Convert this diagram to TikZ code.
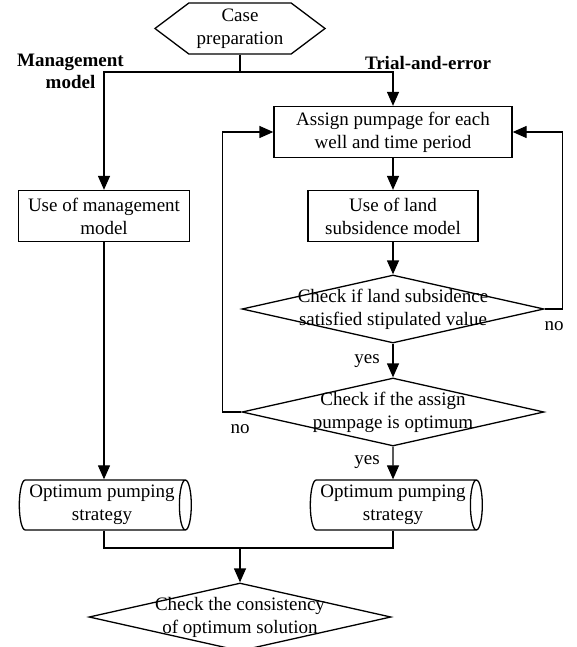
\documentclass[tikz,border=0pt]{standalone}
\usepackage{fontspec}
\setmainfont{Liberation Serif}
\usetikzlibrary{shapes.geometric}
\usetikzlibrary{shapes.symbols}
\usetikzlibrary{arrows.meta}

\begin{document}
\begin{tikzpicture}[x=1pt,y=-1pt,line width=1.3pt,
font=\fontsize{19pt}{23pt}\selectfont,
>={Triangle[length=14pt,width=12pt]},
startstop/.style={draw,signal,signal to=west and east,signal pointer angle=74,
minimum width=170pt,minimum height=51pt,inner sep=0pt,align=center},
process/.style={draw,rectangle,minimum height=51pt,inner sep=0pt,align=center},
decision/.style={draw,diamond,minimum width=302pt,minimum height=68pt,inner sep=0pt},
storage/.style={draw,cylinder,shape aspect=0.3,minimum width=50pt,
minimum height=172pt,inner sep=0pt,align=center},
txtnode/.style={align=center,inner sep=0pt},
boldtxt/.style={txtnode,font=\fontsize{19pt}{22pt}\selectfont\bfseries}]
\path[fill=white,use as bounding box] (0,0) rectangle (576,647);
\node[startstop] (prep) at (240,28.5) {Case\\preparation};
\node[process,minimum width=171pt] (mgmt) at (104,216) {Use of management\\model};
\node[process,minimum width=238pt] (assign) at (393,132) {Assign pumpage for each\\well and time period};
\node[process,minimum width=170pt] (land) at (393,216) {Use of land\\subsidence model};
\node[decision] (chkland) at (393,309) {};
\node[txtnode] (chklandtxt) at (chkland) {Check if land subsidence\\satisfied stipulated value};
\node[decision] (chkopt) at (393,412) {};
\node[txtnode] (chkopttxt) at (chkopt) {Check if the assign\\pumpage is optimum};
\node[storage] (optL) at (102,505) {Optimum pumping\\strategy};
\node[storage] (optR) at (393,505) {Optimum pumping\\strategy};
\node[decision] (chkcons) at (240,617) {};
\node[txtnode] (chkconstxt) at (chkcons) {Check the consistency\\of optimum solution};
\node[boldtxt] (mgmtlbl) at (70.5,71) {Management\\model};
\node[boldtxt] (triallbl) at (428,63) {Trial-and-error};
\node[txtnode] (yes1) at (367,361) {yes};
\node[txtnode] (yes2) at (367,462) {yes};
\node[txtnode] (no1) at (554,326) {no};
\node[txtnode] (no2) at (240,429) {no};
\coordinate (fork) at (240,72);
\coordinate (join) at (240,548);
\draw (prep.south) -- (fork);
\draw[->] (fork) -| (mgmt.north);
\draw[->] (fork) -| (assign.north);
\draw[->] (mgmt.south) -- (mgmt.south |- optL.north);
\draw[->] (assign.south) -- (land.north);
\draw[->] (land.south) -- (chkland.north);
\draw[->] (chkland.south) -- (chkopt.north);
\draw[->] (chkopt.south) -- (optR.north);
\draw[->] (chkland.east) -- ++(18,0) |- (assign.east);
\draw[->] (chkopt.west) -- ++(-19,0) |- (assign.west);
\draw (mgmt.south |- optL.south) |- (join);
\draw (optR.south) |- (join);
\draw[->] (join) -- (chkcons.north);
\end{tikzpicture}
\end{document}
